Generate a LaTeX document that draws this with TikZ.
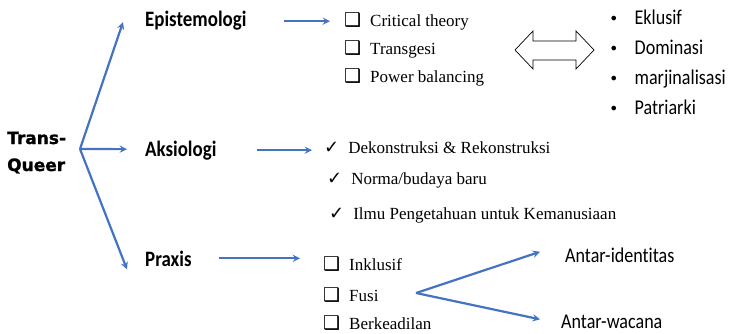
\documentclass[tikz,border=0pt]{standalone}
\usepackage{fontspec}
\setmainfont{Carlito}[Ligatures=NoCommon]
\newfontfamily\headfont{Carlito}[FakeStretch=0.86, Ligatures=NoCommon]
\newfontfamily\listfont{Liberation Serif}
\newfontfamily\symfont{DejaVu Sans}
\newfontfamily\rootfont{DejaVu Sans}[FakeBold=1.2]
\definecolor{linkblue}{RGB}{68,114,196}
\newcommand{\boxmark}{{\symfont\fontsize{19}{19}\selectfont ❑}\hspace{9pt}}
\newcommand{\chkmark}{{\symfont\fontsize{18}{18}\selectfont ✓}\hspace{9pt}}
\newcommand{\dotmark}{{\symfont\fontsize{16}{16}\selectfont •}\hspace{16pt}}

\begin{document}
\begin{tikzpicture}[x=1pt, y=-1pt, >=stealth,
  head/.style={anchor=base west, inner sep=0pt, font=\headfont\fontsize{22}{26}\selectfont\bfseries},
  item/.style={anchor=base west, inner sep=0pt, font=\listfont\fontsize{17}{20}\selectfont},
  dot/.style={anchor=base west, inner sep=0pt, font=\headfont\fontsize{21}{24}\selectfont},
  link/.style={->, draw=linkblue, line width=2.2pt}]
\useasboundingbox (0,0) rectangle (738,334);
% root and the three branches
\node[anchor=base west, inner sep=0pt, align=left, font=\rootfont\bfseries\fontsize{17}{27}\selectfont] (tq) at (7,171) {Trans-\\Queer};
\coordinate (hub) at (80,149);
\node[head] (epi) at (145,27) {Epistemologi};
\node[head] (aks) at (145,156) {Aksiologi};
\node[head] (prx) at (145,266) {Praxis};
\draw[link] (hub) -- ([xshift=-22pt,yshift=-1pt]epi.west);
\draw[link] (hub) -- ([xshift=-18pt,yshift=1pt]aks.west);
\draw[link] (hub) -- ([xshift=-18pt,yshift=-11pt]prx.west);
% epistemologi
\node[item] (e1) at (344,27) {\boxmark Critical theory};
\node[item] (e2) at (344,55) {\boxmark Transgesi};
\node[item] (e3) at (344,83) {\boxmark Power balancing};
\draw[link] ([xshift=37pt]epi.east) -- ([xshift=-14pt]epi.east -| e1.west);
\draw[line width=0.7pt] (515,50) -- (533,31) -- (533,41) -- (576,41) -- (576,31) -- (594,50)
  -- (576,69) -- (576,60) -- (533,60) -- (533,69) -- cycle;
\node[dot] (b1) at (609,25) {\dotmark Eklusif};
\node[dot] (b2) at (609,55) {\dotmark Dominasi};
\node[dot] (b3) at (609,85) {\dotmark marjinalisasi};
\node[dot] (b4) at (609,114) {\dotmark Patriarki};
% aksiologi
\node[item] (a1) at (324,153) {\chkmark Dekonstruksi \& Rekonstruksi};
\node[item] (a2) at (327,184) {\chkmark Norma/budaya baru};
\node[item] (a3) at (329,219) {\chkmark Ilmu Pengetahuan untuk Kemanusiaan};
\draw[link] ([xshift=40pt]aks.east) -- ([xshift=-12pt]aks.east -| a1.west);
% praxis
\node[item] (p1) at (323,270) {\boxmark Inklusif};
\node[item] (p2) at (323,301) {\boxmark Fusi};
\node[item] (p3) at (323,329) {\boxmark Berkeadilan};
\draw[link] ([xshift=27pt]prx.east) -- ([xshift=-23pt]prx.east -| p1.west);
\coordinate (fork) at (416,293);
\node[dot] (ai) at (565,262) {Antar-identitas};
\node[dot] (aw) at (561,328) {Antar-wacana};
\draw[link] (fork) -- ([xshift=-25pt,yshift=3pt]ai.west);
\draw[link] (fork) -- ([xshift=-21pt,yshift=2pt]aw.west);
\end{tikzpicture}
\end{document}
